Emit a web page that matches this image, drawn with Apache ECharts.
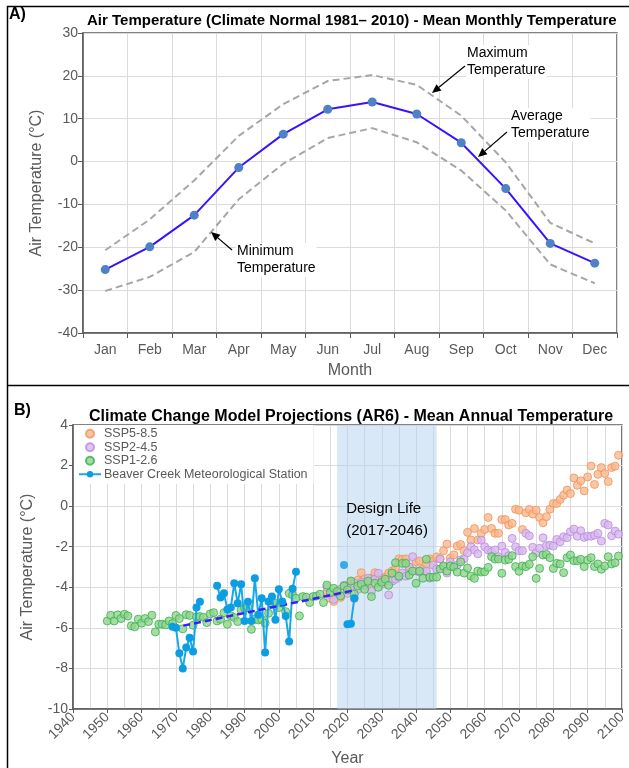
<!DOCTYPE html>
<html>
<head>
<meta charset="UTF-8">
<title>Air Temperature</title>
<script src="https://cdn.jsdelivr.net/npm/echarts@6/dist/echarts.min.js"></script>
<style>
html,body{margin:0;padding:0;background:#fff;}
#chart{width:629px;height:768px;}
</style>
</head>
<body>
<div id="chart"></div>
<script>
// ---- panel A : climate normal 1981-2010 ----
var months = ['Jan','Feb','Mar','Apr','May','Jun','Jul','Aug','Sep','Oct','Nov','Dec'];
var avgTemp = [-25.2,-19.9,-12.5,-1.4,6.4,12.2,13.9,11.1,4.4,-6.3,-19.1,-23.7];
var maxTemp = [-20.7,-13.5,-4.4,6.0,13.4,18.8,20.2,17.9,10.7,-0.2,-14.3,-19.1];
var minTemp = [-30.2,-26.9,-21.1,-8.8,-0.5,5.5,7.8,4.5,-2.1,-11.4,-24.0,-28.4];

// ---- panel B : AR6 projections ----
var ssp126Start = 1950;
var ssp126 = [
  -5.66,-5.38,-5.66,-5.36,-5.54,-5.33,-5.41,-5.90,-5.95,-5.57,
  -5.77,-5.54,-5.69,-5.38,-6.20,-5.82,-5.82,-5.85,-5.66,-5.79,
  -5.39,-5.54,-6.05,-5.35,-5.39,-5.87,-5.46,-5.44,-5.48,-5.74,
  -5.31,-5.25,-5.66,-5.58,-5.25,-5.82,-5.41,-5.49,-5.69,-5.12,
  -5.03,-5.00,-6.07,-5.58,-5.61,-5.58,-5.77,-5.28,-4.79,-4.79,
  -5.00,-4.79,-5.20,-4.30,-4.38,-4.54,-5.41,-4.46,-4.49,-4.75,
  -4.46,-4.43,-4.34,-4.75,-3.89,-4.26,-4.05,-4.21,-4.43,-3.94,
  -4.13,-3.69,-4.34,-3.94,-3.85,-4.10,-3.70,-4.46,-3.80,-4.00,
  -3.75,-3.60,-3.90,-3.30,-2.79,-3.45,-2.82,-2.82,-3.40,-3.20,
  -3.80,-3.20,-3.55,-2.62,-3.50,-3.50,-3.50,-3.10,-2.95,-3.20,
  -2.95,-3.00,-3.25,-2.75,-3.30,-3.05,-3.45,-3.56,-3.20,-3.25,
  -3.23,-3.02,-2.49,-2.61,-2.61,-3.31,-2.66,-2.62,-2.44,-2.98,
  -3.21,-2.95,-2.98,-2.87,-2.49,-3.56,-3.07,-2.41,-2.38,-2.54,
  -3.07,-2.82,-2.85,-3.28,-2.54,-2.41,-2.69,-2.69,-2.62,-2.98,
  -2.66,-2.54,-2.98,-2.85,-3.11,-2.95,-2.49,-2.85,-2.79,-2.46
];
var ssp585Start = 2014;
var ssp585 = [
  -4.25,-4.55,-4.70,-4.30,-4.50,-4.00,
  -4.15,-3.75,-4.55,-3.65,-3.28,-3.60,-3.80,-3.55,-3.28,-3.70,
  -3.55,-3.50,-3.30,-3.20,-3.05,-2.60,-2.62,-2.60,-3.05,-3.20,
  -2.75,-2.70,-3.10,-2.85,-2.60,-2.70,-2.50,-2.60,-2.20,-1.87,
  -2.55,-2.40,-1.97,-1.89,-2.20,-1.29,-1.67,-1.10,-1.67,-1.34,
  -1.15,-0.56,-1.10,-1.34,-1.34,-0.66,-0.66,-0.93,-0.85,-0.15,
  -0.20,-1.15,-0.33,-0.16,-0.39,-0.20,-0.56,-0.82,-0.52,-0.15,
  0.13,0.13,0.33,0.54,0.79,0.62,1.39,1.03,1.25,0.75,
  1.44,1.98,1.07,1.57,1.90,1.61,1.21,1.90,1.97,2.51
];
var ssp245Start = 2014;
var ssp245 = [
  -4.00,-4.35,-4.60,-4.20,-4.10,-3.90,
  -4.30,-3.95,-3.80,-4.10,-3.75,-3.90,-3.55,-4.20,-3.60,-3.31,
  -3.85,-3.70,-4.38,-3.70,-3.60,-3.50,-3.30,-3.45,-3.00,-2.49,
  -3.20,-3.25,-3.25,-3.20,-3.55,-2.90,-3.10,-2.60,-3.00,-3.30,
  -2.75,-3.00,-2.90,-2.65,-2.60,-2.30,-2.00,-2.15,-2.35,-1.68,
  -2.00,-2.16,-2.25,-2.16,-2.49,-1.97,-2.28,-2.44,-1.59,-2.00,
  -2.20,-2.20,-1.34,-1.46,-2.03,-2.30,-2.08,-1.56,-1.95,-1.92,
  -1.97,-1.64,-1.75,-1.51,-1.56,-1.26,-1.13,-1.48,-1.21,-1.54,
  -1.48,-1.48,-1.43,-1.34,-1.72,-0.85,-0.93,-1.46,-1.23,-1.38
];
// Beaver Creek station record (null = no data, breaks the line)
var stationYears = [1969,1970,1971,1972,1973,1974,1975,1976,1977,1978,
  1982,1983,1984,1985,1986,1987,1988,1989,1990,1991,1992,1993,1994,1995,
  1996,1997,1998,1999,2000,2001,2002,2003,2004,2005,2006,2020,2021,2022];
var stationTemps = [-5.95,-6.00,-7.25,-8.00,-6.97,-6.49,-7.17,-5.00,-4.71,null,
  -3.93,-4.50,-4.30,-5.10,-5.00,-3.80,-4.79,-3.85,-5.66,-4.71,-5.66,-3.56,-5.36,-4.54,
  -7.21,-4.70,-4.46,-5.60,-4.10,-4.70,-5.41,-6.67,-4.07,-3.23,null,-5.82,-5.80,-4.54];
var stationLoneYears = [2019];
var stationLoneTemps = [-2.90];
var trendYears = [1969, 2022];
var trendTemps = [-6.00, -4.15];
var designLife = [2017, 2046];

function pairs(start, vals) {
  return vals.map(function (v, i) { return [start + i, v]; });
}
function zip(xs, ys) {
  return xs.map(function (x, i) { return [x, ys[i] === null ? '-' : ys[i]]; });
}

var FONT = '"Liberation Sans", Arial, sans-serif';
var GREY = '#595959';

var chart = echarts.init(document.getElementById('chart'), null, {renderer: 'canvas'});

function arrow(x1, y1, x2, y2) {
  var a = Math.atan2(y2 - y1, x2 - x1), L = 9, W = 4;
  var bx = x2 - L * Math.cos(a), by = y2 - L * Math.sin(a);
  return [
    {type: 'line', z: 10, shape: {x1: x1, y1: y1, x2: bx, y2: by}, style: {stroke: '#000', lineWidth: 1.2}},
    {type: 'polygon', z: 10, shape: {points: [[x2, y2],
      [bx + W * Math.sin(a), by - W * Math.cos(a)],
      [bx - W * Math.sin(a), by + W * Math.cos(a)]]}, style: {fill: '#000'}}
  ];
}
function note(x, y, txt) {
  return {type: 'text', left: x, top: y, z: 10,
    style: {text: txt, font: '14px ' + FONT, fill: '#000', lineHeight: 17,
            backgroundColor: '#fff', padding: [0, 1, 0, 1]}};
}

var graphics = [
  {type: 'polyline', shape: {points: [[629, 6.5], [7.5, 6.5], [7.5, 768]]}, style: {stroke: '#000', lineWidth: 1.5, fill: null}},
  {type: 'line', shape: {x1: 7.5, y1: 385.5, x2: 629, y2: 385.5}, style: {stroke: '#000', lineWidth: 1.5}},
  {type: 'text', left: 9, top: 7, style: {text: 'A)', font: 'bold 16px ' + FONT, fill: '#000'}},
  {type: 'text', left: 14, top: 403, style: {text: 'B)', font: 'bold 16px ' + FONT, fill: '#000'}},
  note(466, 45, 'Maximum\nTemperature'),
  note(510, 108, 'Average\nTemperature'),
  note(236, 243, 'Minimum\nTemperature')
].concat(arrow(465, 66, 432, 93), arrow(507, 132, 478, 157), arrow(232, 250, 211, 232));

var axisLabelStyle = {color: GREY, fontSize: 14, fontFamily: FONT};
var nameStyle = {color: GREY, fontSize: 16, fontFamily: FONT};
var gridLine = {show: true, lineStyle: {color: '#dcdcdc', width: 1}};

function scatter(name, data, fill, stroke) {
  return {
    name: name, type: 'scatter', xAxisIndex: 1, yAxisIndex: 1,
    data: data, symbolSize: 8,
    itemStyle: {color: fill, borderColor: stroke, borderWidth: 1}
  };
}

var option = {
  animation: false,
  textStyle: {fontFamily: FONT},
  title: [
    {text: 'Air Temperature (Climate Normal 1981\u2013 2010) - Mean Monthly Temperature', left: 82, top: 8,
     textStyle: {fontSize: 15, fontWeight: 'bold', color: '#000', fontFamily: FONT}},
    {text: 'Climate Change Model Projections (AR6) - Mean Annual Temperature', left: 84, top: 404,
     textStyle: {fontSize: 16, fontWeight: 'bold', color: '#000', fontFamily: FONT}}
  ],
  grid: [
    {left: 83, right: 12, top: 33, height: 300, show: true, borderColor: GREY, borderWidth: 1.5, containLabel: false},
    {left: 73, right: 6, top: 425, height: 284, show: true, borderColor: GREY, borderWidth: 1.5, containLabel: false}
  ],
  legend: {
    data: ['SSP5-8.5', 'SSP2-4.5', 'SSP1-2.6', 'Beaver Creek Meteorological Station'],
    orient: 'vertical', left: 74, top: 425, itemGap: 0, itemWidth: 22, itemHeight: 8,
    backgroundColor: '#fff', padding: [2, 6, 3, 4],
    textStyle: {color: GREY, fontSize: 12.5, lineHeight: 13.5, fontFamily: FONT, padding: [0, 0, 0, -2]}
  },
  xAxis: [
    {type: 'category', gridIndex: 0, data: months, boundaryGap: true,
     axisLine: {onZero: false, lineStyle: {color: GREY, width: 1.5}},
     axisTick: {show: true, length: 5, lineStyle: {color: GREY}},
     axisLabel: Object.assign({margin: 10}, axisLabelStyle),
     splitLine: gridLine,
     name: 'Month', nameLocation: 'middle', nameGap: 30, nameTextStyle: nameStyle},
    {type: 'value', gridIndex: 1, min: 1940, max: 2100, interval: 10,
     axisLine: {onZero: false, lineStyle: {color: GREY, width: 1.5}},
     axisTick: {show: true, length: 4, lineStyle: {color: GREY}},
     axisLabel: Object.assign({rotate: 45, margin: 6, formatter: function (v) { return String(v); }}, axisLabelStyle),
     splitLine: gridLine,
     minorTick: {show: false, splitNumber: 2},
     minorSplitLine: {show: true, lineStyle: {color: '#dcdcdc', width: 1}},
     name: 'Year', nameLocation: 'middle', nameGap: 42, nameTextStyle: nameStyle}
  ],
  yAxis: [
    {type: 'value', gridIndex: 0, min: -40, max: 30, interval: 10,
     axisLine: {show: true, onZero: false, lineStyle: {color: GREY, width: 1.5}},
     axisTick: {show: true, length: 5, lineStyle: {color: GREY}},
     axisLabel: Object.assign({margin: 5}, axisLabelStyle),
     splitLine: gridLine,
     name: 'Air Temperature (\u00B0C)', nameLocation: 'middle', nameGap: 38, nameTextStyle: nameStyle},
    {type: 'value', gridIndex: 1, min: -10, max: 4, interval: 2,
     axisLine: {show: true, onZero: false, lineStyle: {color: GREY, width: 1.5}},
     axisTick: {show: true, length: 4, lineStyle: {color: GREY}},
     axisLabel: Object.assign({margin: 5}, axisLabelStyle),
     splitLine: gridLine,
     name: 'Air Temperature (\u00B0C)', nameLocation: 'middle', nameGap: 37, nameTextStyle: nameStyle}
  ],
  series: [
    {name: 'Maximum Temperature', type: 'line', xAxisIndex: 0, yAxisIndex: 0, data: maxTemp,
     showSymbol: false, lineStyle: {color: '#a6a6a6', width: 2, type: [7, 4]}},
    {name: 'Minimum Temperature', type: 'line', xAxisIndex: 0, yAxisIndex: 0, data: minTemp,
     showSymbol: false, lineStyle: {color: '#a6a6a6', width: 2, type: [7, 4]}},
    {name: 'Average Temperature', type: 'line', xAxisIndex: 0, yAxisIndex: 0, data: avgTemp,
     symbol: 'circle', symbolSize: 9, lineStyle: {color: '#3614ff', width: 2},
     itemStyle: {color: '#4f81c4'}},

    Object.assign(scatter('SSP5-8.5', pairs(ssp585Start, ssp585), '#f8b98f', '#f2925a'), {
      markArea: {
        silent: true,
        itemStyle: {color: 'rgba(178, 210, 238, 0.5)'},
        label: {show: true, position: [9, 73], color: '#000', fontSize: 15, fontFamily: FONT,
                lineHeight: 22, align: 'left', verticalAlign: 'top'},
        data: [[{xAxis: designLife[0], yAxis: -10, name: 'Design Life\n(2017-2046)'}, {xAxis: designLife[1], yAxis: 4}]]
      }
    }),
    scatter('SSP2-4.5', pairs(ssp245Start, ssp245), '#d8b9ee', '#b98ae0'),
    scatter('SSP1-2.6', pairs(ssp126Start, ssp126), '#92d38e', '#34b24c'),
    {name: 'Beaver Creek Meteorological Station', type: 'line', xAxisIndex: 1, yAxisIndex: 1,
     data: zip(stationYears, stationTemps), connectNulls: false,
     symbol: 'circle', symbolSize: 8, lineStyle: {color: '#18a8e8', width: 2},
     itemStyle: {color: '#0b9ee2'}},
    {name: 'Beaver Creek Meteorological Station', type: 'scatter', xAxisIndex: 1, yAxisIndex: 1,
     data: zip(stationLoneYears, stationLoneTemps), symbolSize: 8, itemStyle: {color: '#0b9ee2'}},
    {name: 'trend', type: 'line', xAxisIndex: 1, yAxisIndex: 1, data: zip(trendYears, trendTemps),
     showSymbol: false, lineStyle: {color: '#3a1cff', width: 2.5, type: [7, 4]}}
  ],
  graphic: graphics
};

chart.setOption(option);
</script>
</body>
</html>
